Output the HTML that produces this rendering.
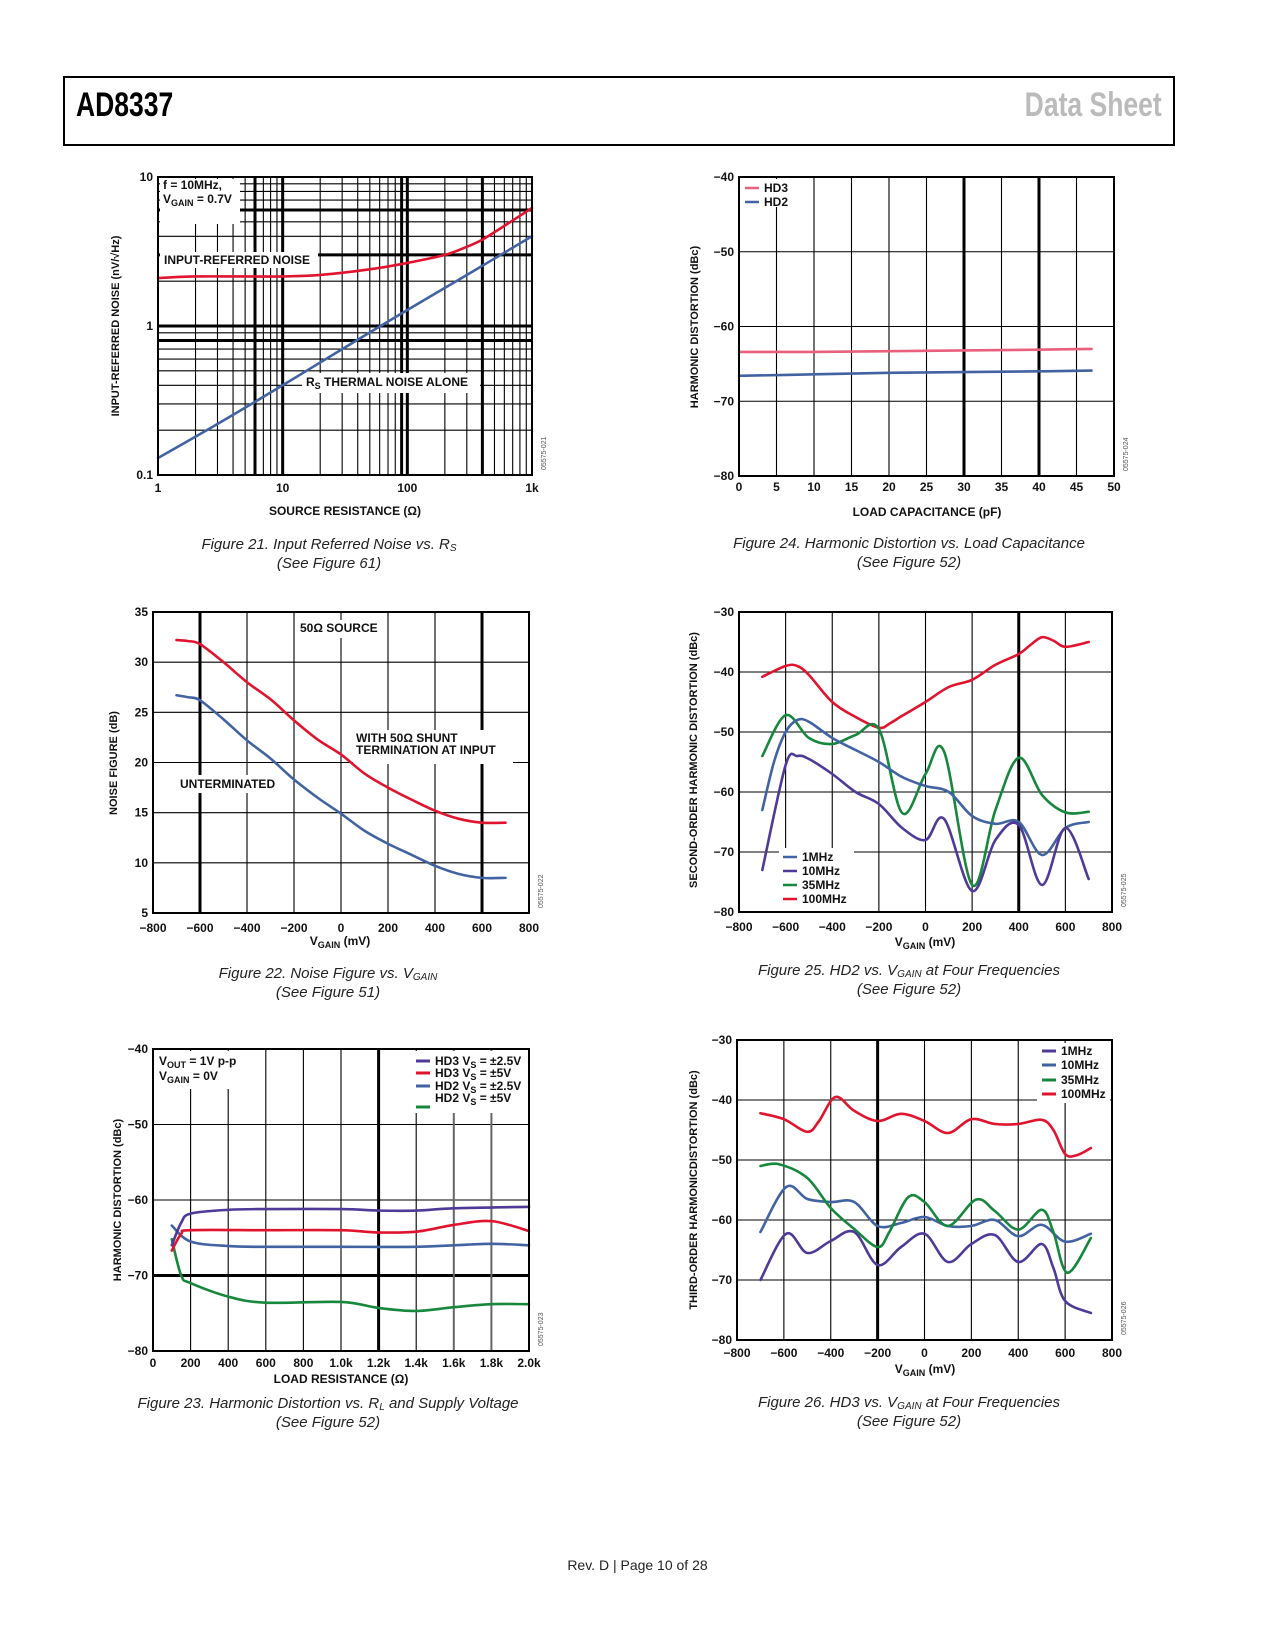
<!DOCTYPE html>
<html><head><meta charset="utf-8"><style>
body{margin:0;background:#fff;}
#page{position:relative;width:1275px;height:1650px;overflow:hidden;font-family:"Liberation Sans",sans-serif;}
#hdr{position:absolute;left:63px;top:76px;width:1108px;height:66px;border:2px solid #000;}
.ht{position:absolute;top:8px;font-family:"Liberation Sans Narrow","Liberation Sans",sans-serif;font-weight:bold;font-size:34px;transform:scaleX(0.78);}
#foot{position:absolute;top:1557px;left:0;width:1275px;text-align:center;font-size:14px;color:#222;}
svg{position:absolute;left:0;top:0;}
svg text{font-family:"Liberation Sans",sans-serif;}
</style></head><body>
<div id="page">
<div id="hdr">
<div class="ht" style="left:11px;transform-origin:left center;">AD8337</div>
<div class="ht" style="right:11px;color:#bbb;transform-origin:right center;">Data Sheet</div>
</div>
<svg id="svg" width="1275" height="1650"></svg>
<div id="foot">Rev. D | Page 10 of 28</div>
</div>
<script>
// ---------- DATA ----------
// Fig 21
const f21x_red=[1,2,5,10,20,50,100,200,300,400,600,1000];
const f21y_red=[2.1,2.15,2.15,2.15,2.2,2.4,2.65,3.0,3.4,3.8,4.7,6.2];
const f21x_blue=[1,3,10,30,100,300,1000];
const f21y_blue=[0.13,0.22,0.4,0.7,1.28,2.2,4.0];
// Fig 24
const f24x=[0,10,20,30,40,47];
const f24_hd3=[-63.4,-63.4,-63.3,-63.2,-63.1,-63.0];
const f24_hd2=[-66.6,-66.4,-66.2,-66.1,-66.0,-65.9];
// Fig 22
const f22x=[-700,-650,-600,-500,-400,-300,-200,-100,0,100,200,300,400,500,600,700];
const f22_red=[32.2,32.1,31.8,30,28,26.3,24.2,22.3,20.8,18.9,17.5,16.3,15.2,14.4,14,14];
const f22_blue=[26.7,26.5,26.2,24.3,22.2,20.4,18.3,16.5,14.9,13.2,11.9,10.8,9.7,8.9,8.5,8.5];
// Fig 25
const f25x_100=[-700,-600,-550,-500,-400,-300,-200,-150,-100,0,100,200,300,400,450,500,550,600,700];
const f25_100=[-40.8,-39,-39,-40.5,-45,-47.5,-49.3,-48.5,-47.3,-45,-42.5,-41.3,-38.8,-37,-35.5,-34.2,-34.8,-35.8,-35];
const f25x_1=[-700,-650,-600,-550,-500,-400,-300,-200,-100,0,100,200,300,400,500,600,700];
const f25_1=[-63,-55,-50,-48,-48.3,-51,-53,-55,-57.5,-59,-60,-64,-65.3,-65,-70.5,-66,-65];
const f25x_10=[-700,-600,-550,-500,-400,-300,-200,-100,0,80,200,300,400,500,600,700];
const f25_10=[-73,-55.5,-54,-54.5,-57,-60,-62,-66,-68,-64.5,-76.5,-68,-65.5,-75.5,-66,-74.5];
const f25x_35=[-700,-600,-500,-400,-300,-200,-100,0,80,200,300,400,500,600,700];
const f25_35=[-54,-47.2,-51,-52,-50.5,-49.5,-63.5,-57,-53.3,-75.5,-63,-54.3,-60.5,-63.4,-63.3];
// Fig 23
const f23x_p=[100,150,200,400,600,1000,1200,1400,1600,2000];
const f23_p=[-66,-63,-61.8,-61.3,-61.2,-61.2,-61.4,-61.4,-61.1,-60.9];
const f23x_r=[100,150,200,600,1000,1200,1400,1600,1800,2000];
const f23_r=[-66.7,-64.5,-64,-64,-64,-64.3,-64.2,-63.3,-62.8,-64.1];
const f23x_b=[100,200,400,600,1000,1400,1600,1800,2000];
const f23_b=[-63.4,-65.5,-66.1,-66.2,-66.2,-66.2,-66,-65.8,-66];
const f23x_g=[100,150,200,400,600,1000,1200,1400,1600,1800,2000];
const f23_g=[-65.2,-70,-71,-72.8,-73.6,-73.5,-74.3,-74.7,-74.2,-73.8,-73.8];
// Fig 26
const f26x_100=[-700,-600,-500,-450,-380,-300,-200,-100,0,100,200,300,400,500,550,600,650,710];
const f26_100=[-42.2,-43.2,-45.3,-43.5,-39.5,-41.8,-43.5,-42.3,-43.5,-45.5,-43.2,-44,-44,-43.3,-45,-49,-49.2,-48];
const f26x_10=[-700,-590,-500,-400,-300,-200,-100,0,100,200,300,400,500,600,710];
const f26_10=[-62,-54.5,-56.5,-57,-57,-61,-60.5,-59.5,-61,-61,-60,-62.7,-60.8,-63.6,-62.3];
const f26x_35=[-700,-620,-500,-400,-300,-200,-150,-70,0,100,220,300,400,500,550,610,710];
const f26_35=[-51,-50.7,-53,-58,-61.5,-64.5,-62,-56.2,-57,-61,-56.6,-58.5,-61.6,-58.3,-62,-68.8,-63];
const f26x_1=[-700,-590,-500,-400,-300,-200,-100,0,100,200,300,400,500,550,600,710];
const f26_1=[-70,-62.3,-65.5,-63.5,-62,-67.5,-64.5,-62.3,-67,-64,-62.5,-67,-64,-68,-73.5,-75.5];
const vTicks=[-800,-600,-400,-200,0,200,400,600,800];

// ---------- HELPERS ----------
const svg=document.getElementById('svg');
const NS='http://www.w3.org/2000/svg';
const RED='#e0142f',BLUE='#4263a2',PURP='#4f3a98',GREEN='#16873c',PINK='#e8607c';
function mk(tag,at,parent){const e=document.createElementNS(NS,tag);for(const k in at)e.setAttribute(k,at[k]);(parent||svg).appendChild(e);return e;}
function txt(x,y,s,o,name){o=o||{};const e=mk('text',{x:x,y:y,'font-size':o.fs||12,'font-weight':o.fw||'bold','text-anchor':o.a||'start',fill:o.fill||'#111'});
 if(o.rot)e.setAttribute('transform','rotate(-90 '+x+' '+y+')');if(o.fst)e.setAttribute('font-style',o.fst);
 e.innerHTML=s;
 
 
 return e;}
function scales(c){
 const lg=Math.log10;
 c.sx=v=>c.xlog?c.L+(lg(v)-lg(c.xmin))/(lg(c.xmax)-lg(c.xmin))*(c.R-c.L):c.L+(v-c.xmin)/(c.xmax-c.xmin)*(c.R-c.L);
 c.sy=v=>c.ylog?c.B-(lg(v)-lg(c.ymin))/(lg(c.ymax)-lg(c.ymin))*(c.B-c.T):c.B-(v-c.ymin)/(c.ymax-c.ymin)*(c.B-c.T);
}
function grid(c,xs,ys,thx,thy,name){
 const g=mk('g',{});
 
 
 xs.forEach(v=>{const x=c.sx(v);mk('line',{x1:x,x2:x,y1:c.T,y2:c.B,stroke:'#000','stroke-width':thx.includes(v)?3:1.1},g);});
 ys.forEach(v=>{const y=c.sy(v);mk('line',{x1:c.L,x2:c.R,y1:y,y2:y,stroke:'#000','stroke-width':thy.includes(v)?3:1.1},g);});
}
function frame(c,name){const r=mk('rect',{x:c.L,y:c.T,width:c.R-c.L,height:c.B-c.T,fill:'none',stroke:'#000','stroke-width':2});
 
 }
function path(c,xs,ys,col,name,w){
 const p=xs.map((x,i)=>[c.sx(x),c.sy(ys[i])]);
 let d='M'+p[0][0]+','+p[0][1];
 for(let i=0;i<p.length-1;i++){const p0=p[Math.max(i-1,0)],p1=p[i],p2=p[i+1],p3=p[Math.min(i+2,p.length-1)];
  d+=' C'+(p1[0]+(p2[0]-p0[0])/6)+','+(p1[1]+(p2[1]-p0[1])/6)+' '+(p2[0]-(p3[0]-p1[0])/6)+','+(p2[1]-(p3[1]-p1[1])/6)+' '+p2[0]+','+p2[1];}
 const e=mk('path',{d:d,fill:'none',stroke:col,'stroke-width':w||2.6,'stroke-linejoin':'round','stroke-linecap':'round'});
 
 
}
function box(x,y,w,h,name){const r=mk('rect',{x:x,y:y,width:w,height:h,fill:'#fff'});
 
 }
function xticks(c,vals,labels,y,name){vals.forEach((v,i)=>txt(c.sx(v),y,labels[i],{a:'middle'},name+'-x-tick'));}
function yticks(c,vals,labels,name){vals.forEach((v,i)=>txt(c.L-5,c.sy(v)+4,labels[i],{a:'end'},name+'-y-tick'));}
function code(c,s){txt(c.R+14,c.B-5,s,{fs:7,fw:'normal',rot:1,fill:'#555'},'figure-code');}
function caption(cx,y,l1,l2,name){txt(cx,y,l1,{fs:15,fw:'normal',fst:'italic',a:'middle',fill:'#222'},name+'-caption');txt(cx,y+19,l2,{fs:15,fw:'normal',fst:'italic',a:'middle',fill:'#222'},name+'-caption-ref');}
function leg(x,y,col,label,name,sw){const l=mk('line',{x1:x,x2:x+14,y1:y,y2:y,stroke:col,'stroke-width':sw||2.5});
 
 
 txt(x+19,y+4,label,{},name);}
const VG='V<tspan font-size="9" dy="3">GAIN</tspan><tspan dy="-3"> (mV)</tspan>';

// ---------- FIG 21 ----------
(function(){const c={L:158,R:532,T:177,B:475,xmin:1,xmax:1000,ymin:0.1,ymax:10,xlog:1,ylog:1};scales(c);
 const gx=[],gy=[];for(const d of [1,10,100])for(let k=1;k<=9;k++)gx.push(k*d);
 for(const d of [0.1,1])for(let k=1;k<=9;k++)gy.push(Math.round(k*d*100)/100);
 grid(c,gx,gy,[6,10,90,100,400],[6,3,1,0.8],'fig21');
 box(c.L+2,c.T+2,80,45,'fig21-condition-box');
 txt(c.L+5,c.T+12,'f = 10MHz,',{},'fig21-condition');
 txt(c.L+5,c.T+26,'V<tspan font-size="9" dy="3">GAIN</tspan><tspan dy="-3"> = 0.7V</tspan>',{},'fig21-condition-vgain');
 box(c.L+2,c.T+75,158,16,'fig21-label-box');
 txt(c.L+6,c.T+87,'INPUT-REFERRED NOISE',{},'input-referred-noise-label');
 box(c.L+144,c.T+196,178,20,'fig21-label-box2');
 txt(c.L+148,c.T+209,'R<tspan font-size="9" dy="3">S</tspan><tspan dy="-3"> THERMAL NOISE ALONE</tspan>',{},'thermal-noise-label');
 path(c,f21x_red,f21y_red,RED,'input-referred-noise-line');
 path(c,f21x_blue,f21y_blue,BLUE,'thermal-noise-line');
 frame(c,'fig21');
 yticks(c,[10,1,0.1],['10','1','0.1'],'fig21');
 xticks(c,[1,10,100,1000],['1','10','100','1k'],492,'fig21');
 txt(345,515,'SOURCE RESISTANCE (Ω)',{a:'middle'},'fig21-x-title');
 txt(119,326,'INPUT-REFERRED NOISE (nV/√Hz)',{rot:1,a:'middle',fs:11},'fig21-y-title');
 code(c,'05575-021');
 caption(329,549,'Figure 21. Input Referred Noise vs. R<tspan font-size="10" dy="2">S</tspan>','(See Figure 61)','fig21');
})();

// ---------- FIG 24 ----------
(function(){const c={L:739,R:1114,T:177,B:476,xmin:0,xmax:50,ymin:-80,ymax:-40};scales(c);
 grid(c,[5,10,15,20,25,30,35,40,45],[-50,-60,-70],[30,40],[],'fig24');
 box(c.L+2,c.T+2,50,28,'fig24-legend-box');
 leg(c.L+6,c.T+11,PINK,'HD3','legend-hd3');leg(c.L+6,c.T+25,BLUE,'HD2','legend-hd2');
 path(c,f24x,f24_hd3,PINK,'hd3-line');path(c,f24x,f24_hd2,BLUE,'hd2-line');
 frame(c,'fig24');
 yticks(c,[-40,-50,-60,-70,-80],['−40','−50','−60','−70','−80'],'fig24');
 xticks(c,[0,5,10,15,20,25,30,35,40,45,50],['0','5','10','15','20','25','30','35','40','45','50'],491,'fig24');
 txt(927,516,'LOAD CAPACITANCE (pF)',{a:'middle'},'fig24-x-title');
 txt(698,327,'HARMONIC DISTORTION (dBc)',{rot:1,a:'middle',fs:11},'fig24-y-title');
 code(c,'05575-024');
 caption(909,548,'Figure 24. Harmonic Distortion vs. Load Capacitance','(See Figure 52)','fig24');
})();

// ---------- FIG 22 ----------
(function(){const c={L:153,R:529,T:612,B:913,xmin:-800,xmax:800,ymin:5,ymax:35};scales(c);
 grid(c,[-600,-400,-200,0,200,400,600],[10,15,20,25,30],[-600,600],[],'fig22');
 box(c.L+143,c.T+8,90,18,'fig22-source-box');
 txt(c.L+147,c.T+20,'50Ω  SOURCE',{},'source-label');
 box(c.L+200,c.T+118,160,34,'fig22-shunt-box');
 txt(c.L+203,c.T+130,'WITH 50Ω  SHUNT',{},'shunt-label');
 txt(c.L+203,c.T+142,'TERMINATION AT INPUT',{},'shunt-label-2');
 box(c.L+24,c.T+163,106,18,'fig22-unterm-box');
 txt(c.L+27,c.T+176,'UNTERMINATED',{},'unterminated-label');
 path(c,f22x,f22_red,RED,'shunt-terminated-line');path(c,f22x,f22_blue,BLUE,'unterminated-line');
 frame(c,'fig22');
 yticks(c,[35,30,25,20,15,10,5],['35','30','25','20','15','10','5'],'fig22');
 xticks(c,vTicks,['−800','−600','−400','−200','0','200','400','600','800'],932,'fig22');
 txt(340,945,VG,{a:'middle'},'fig22-x-title');
 txt(117,763,'NOISE FIGURE (dB)',{rot:1,a:'middle',fs:11},'fig22-y-title');
 code(c,'05575-022');
 caption(328,978,'Figure 22. Noise Figure vs. V<tspan font-size="10" dy="2">GAIN</tspan>','(See Figure 51)','fig22');
})();

// ---------- FIG 25 ----------
(function(){const c={L:739,R:1112,T:612,B:912,xmin:-800,xmax:800,ymin:-80,ymax:-30};scales(c);
 grid(c,[-600,-400,-200,0,200,400,600],[-40,-50,-60,-70],[400],[],'fig25');
 box(c.L+40,c.T+236,75,63,'fig25-legend-box');
 path(c,f25x_100,f25_100,RED,'hd2-100mhz-line');
 path(c,f25x_35,f25_35,GREEN,'hd2-35mhz-line');
 path(c,f25x_1,f25_1,BLUE,'hd2-1mhz-line');
 path(c,f25x_10,f25_10,PURP,'hd2-10mhz-line');
 leg(c.L+44,c.T+245,BLUE,'1MHz','legend-1mhz');leg(c.L+44,c.T+259,PURP,'10MHz','legend-10mhz');
 leg(c.L+44,c.T+273,GREEN,'35MHz','legend-35mhz');leg(c.L+44,c.T+287,RED,'100MHz','legend-100mhz');
 frame(c,'fig25');
 yticks(c,[-30,-40,-50,-60,-70,-80],['−30','−40','−50','−60','−70','−80'],'fig25');
 xticks(c,vTicks,['−800','−600','−400','−200','0','200','400','600','800'],931,'fig25');
 txt(925,946,VG,{a:'middle'},'fig25-x-title');
 txt(697,760,'SECOND-ORDER HARMONIC DISTORTION (dBc)',{rot:1,a:'middle',fs:11},'fig25-y-title');
 code(c,'05575-025');
 caption(909,975,'Figure 25. HD2 vs. V<tspan font-size="10" dy="2">GAIN</tspan><tspan dy="-2"> at Four Frequencies</tspan>','(See Figure 52)','fig25');
})();

// ---------- FIG 23 ----------
(function(){const c={L:153,R:529,T:1049,B:1351,xmin:0,xmax:2000,ymin:-80,ymax:-40};scales(c);
 grid(c,[200,400,600,800,1000,1200,1400],[-50,-60,-70],[1200],[-70],'fig23');
 [1600,1800].forEach(v=>{const l=mk('line',{x1:c.sx(v),x2:c.sx(v),y1:c.T,y2:c.B,stroke:'#666','stroke-width':2});
  
  });
 box(c.L+2,c.T+2,80,38,'fig23-condition-box');
 txt(c.L+6,c.T+16,'V<tspan font-size="9" dy="3">OUT</tspan><tspan dy="-3"> = 1V p-p</tspan>',{},'fig23-condition');
 txt(c.L+6,c.T+31,'V<tspan font-size="9" dy="3">GAIN</tspan><tspan dy="-3"> = 0V</tspan>',{},'fig23-condition-vgain');
 box(c.L+258,c.T+2,116,62,'fig23-legend-box');
 leg(c.L+263,c.T+12,PURP,'HD3 V<tspan font-size="9" dy="3">S</tspan><tspan dy="-3"> = ±2.5V</tspan>','legend-hd3-2v5',3);
 leg(c.L+263,c.T+24,RED,'HD3 V<tspan font-size="9" dy="3">S</tspan><tspan dy="-3"> = ±5V</tspan>','legend-hd3-5v',3);
 leg(c.L+263,c.T+37,BLUE,'HD2 V<tspan font-size="9" dy="3">S</tspan><tspan dy="-3"> = ±2.5V</tspan>','legend-hd2-2v5',3);
 txt(c.L+282,c.T+53,'HD2 V<tspan font-size="9" dy="3">S</tspan><tspan dy="-3"> = ±5V</tspan>',{},'legend-hd2-5v');
 const gl=mk('line',{x1:c.L+263,x2:c.L+277,y1:c.T+58,y2:c.T+58,stroke:GREEN,'stroke-width':3});
 
 
 path(c,f23x_g,f23_g,GREEN,'hd2-5v-line');path(c,f23x_b,f23_b,BLUE,'hd2-2v5-line');
 path(c,f23x_r,f23_r,RED,'hd3-5v-line');path(c,f23x_p,f23_p,PURP,'hd3-2v5-line');
 frame(c,'fig23');
 yticks(c,[-40,-50,-60,-70,-80],['−40','−50','−60','−70','−80'],'fig23');
 xticks(c,[0,200,400,600,800,1000,1200,1400,1600,1800,2000],['0','200','400','600','800','1.0k','1.2k','1.4k','1.6k','1.8k','2.0k'],1367,'fig23');
 txt(341,1383,'LOAD RESISTANCE (Ω)',{a:'middle'},'fig23-x-title');
 txt(121,1200,'HARMONIC DISTORTION (dBc)',{rot:1,a:'middle',fs:11},'fig23-y-title');
 code(c,'05575-023');
 caption(328,1408,'Figure 23. Harmonic Distortion vs. R<tspan font-size="10" dy="2">L</tspan><tspan dy="-2"> and Supply Voltage</tspan>','(See Figure 52)','fig23');
})();

// ---------- FIG 26 ----------
(function(){const c={L:737,R:1112,T:1040,B:1340,xmin:-800,xmax:800,ymin:-80,ymax:-30};scales(c);
 grid(c,[-600,-400,-200,0,200,400,600],[-40,-50,-60,-70],[-200],[],'fig26');
 box(c.L+300,c.T+3,73,60,'fig26-legend-box');
 leg(c.L+305,c.T+11,PURP,'1MHz','legend-1mhz',3);leg(c.L+305,c.T+25,BLUE,'10MHz','legend-10mhz',3);
 leg(c.L+305,c.T+40,GREEN,'35MHz','legend-35mhz',3);leg(c.L+305,c.T+54,RED,'100MHz','legend-100mhz',3);
 path(c,f26x_100,f26_100,RED,'hd3-100mhz-line');
 path(c,f26x_10,f26_10,BLUE,'hd3-10mhz-line');
 path(c,f26x_35,f26_35,GREEN,'hd3-35mhz-line');
 path(c,f26x_1,f26_1,PURP,'hd3-1mhz-line');
 frame(c,'fig26');
 yticks(c,[-30,-40,-50,-60,-70,-80],['−30','−40','−50','−60','−70','−80'],'fig26');
 xticks(c,vTicks,['−800','−600','−400','−200','0','200','400','600','800'],1357,'fig26');
 txt(925,1373,VG,{a:'middle'},'fig26-x-title');
 txt(697,1190,'THIRD-ORDER HARMONICDISTORTION (dBc)',{rot:1,a:'middle',fs:11},'fig26-y-title');
 code(c,'05575-026');
 caption(909,1407,'Figure 26. HD3 vs. V<tspan font-size="10" dy="2">GAIN</tspan><tspan dy="-2"> at Four Frequencies</tspan>','(See Figure 52)','fig26');
})();
</script>
</body></html>
